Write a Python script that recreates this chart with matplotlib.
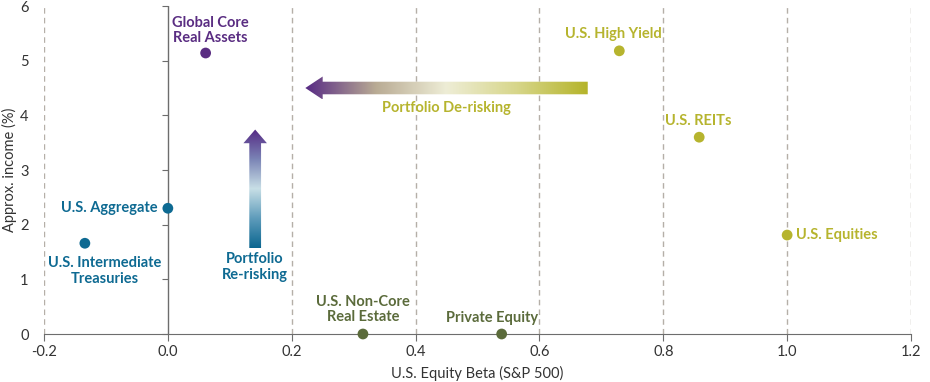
import numpy as np
import matplotlib
matplotlib.use("Agg")
import matplotlib.pyplot as plt
from matplotlib.patches import Polygon
from matplotlib.colors import LinearSegmentedColormap

plt.rcParams['font.family'] = ['Lato', 'DejaVu Sans']

# ---- data ----
names = ["Global Core\nReal Assets", "U.S. Aggregate", "U.S. Intermediate\nTreasuries",
         "U.S. High Yield", "U.S. REITs", "U.S. Equities",
         "U.S. Non-Core\nReal Estate", "Private Equity"]
beta = [0.061, 0.0, -0.134, 0.729, 0.858, 1.0, 0.315, 0.539]
income = [5.14, 2.30, 1.66, 5.18, 3.60, 1.81, 0.0, 0.0]
groups = ["purple", "blue", "blue", "olive", "olive", "olive", "green", "green"]
x_ticks = [-0.2, 0.0, 0.2, 0.4, 0.6, 0.8, 1.0, 1.2]
y_ticks = [0, 1, 2, 3, 4, 5, 6]

colors = {"purple": "#5a2d82", "blue": "#0e6a92", "olive": "#b6b42e", "green": "#5b6b3b"}

fig = plt.figure(figsize=(9.30, 3.82), dpi=100)
ax = fig.add_axes([44/930, 1-334/382, (911-44)/930, (334-6)/382])
ax.set_xlim(-0.2, 1.2)
ax.set_ylim(0, 6)

# grid lines
for xv in x_ticks:
    if xv != 0.0:
        ax.axvline(xv, color="#b5afa8", lw=1.0, ls=(0, (4, 3)), zorder=1)
ax.axvline(0.0, color="#6d6d6d", lw=1.0, zorder=1)

for s in ["top", "right", "left"]:
    ax.spines[s].set_visible(False)
ax.spines["bottom"].set_color("#6d6d6d")
ax.set_xticks(x_ticks)
ax.set_xticklabels([f"{v:.1f}" for v in x_ticks])
ax.set_yticks(y_ticks)
ax.set_yticklabels([str(v) for v in y_ticks])
ax.tick_params(axis="x", length=5, color="#6d6d6d", labelsize=10.5, labelcolor="#333333", pad=3)
ax.tick_params(axis="y", length=0, labelsize=10.5, labelcolor="#333333", pad=11)

sec = ax.secondary_yaxis(0.2/1.4)
sec.set_yticks(y_ticks)
sec.tick_params(axis="y", length=4, color="#6d6d6d", labelleft=False, labelright=False)
sec.spines["left"].set_visible(False)

ax.set_xlabel("U.S. Equity Beta (S&P 500)", fontsize=10.5, color="#333333", labelpad=5)
ax.set_ylabel("Approx. income (%)", fontsize=10.5, color="#333333")
ax.yaxis.set_label_coords(-0.031, 0.5)

# points
for b, inc, g in zip(beta, income, groups):
    ax.scatter([b], [inc], s=60, color=colors[g], zorder=5, clip_on=False, edgecolors="none")

# labels
tkw = dict(fontsize=10.5, fontweight="bold", zorder=6)
ax.text(0.068, 5.55, names[0], color=colors["purple"], ha="center", va="center", linespacing=1.15, **tkw)
ax.text(-0.016, 2.30, names[1], color=colors["blue"], ha="right", va="center", **tkw)
ax.text(-0.102, 1.15, names[2], color=colors["blue"], ha="center", va="center", linespacing=1.15, **tkw)
ax.text(0.72, 5.49, names[3], color=colors["olive"], ha="center", va="center", **tkw)
ax.text(0.857, 3.89, names[4], color=colors["olive"], ha="center", va="center", **tkw)
ax.text(1.015, 1.81, names[5], color=colors["olive"], ha="left", va="center", **tkw)
ax.text(0.315, 0.45, names[6], color=colors["green"], ha="center", va="center", linespacing=1.15, **tkw)
ax.text(0.523, 0.29, names[7], color=colors["green"], ha="center", va="center", **tkw)
ax.text(0.140, 1.22, "Portfolio\nRe-risking", color=colors["blue"], ha="center", va="center", linespacing=1.15, **tkw)
ax.text(0.450, 4.14, "Portfolio De-risking", color=colors["olive"], ha="center", va="center", **tkw)

# gradient arrows
def gradient_arrow(ax, poly_xy, extent, cmap_colors, horizontal):
    cmap = LinearSegmentedColormap.from_list("g", cmap_colors)
    grad = np.linspace(0, 1, 256)
    img = grad[None, :] if horizontal else grad[:, None]
    im = ax.imshow(img, cmap=cmap, extent=extent, origin="lower", aspect="auto", zorder=4, interpolation="bilinear")
    poly = Polygon(poly_xy, closed=True, facecolor="none", edgecolor="none", transform=ax.transData)
    ax.add_patch(poly)
    im.set_clip_path(poly)

# horizontal arrow (pointing left)
x0, x1, yc = 0.222, 0.678, 4.50
bh, hh, hl = 0.115, 0.21, 0.028
hpoly = [(x0, yc), (x0 + hl, yc + hh), (x0 + hl, yc + bh), (x1, yc + bh),
         (x1, yc - bh), (x0 + hl, yc - bh), (x0 + hl, yc - hh)]
gradient_arrow(ax, hpoly, [x0, x1, yc - hh, yc + hh],
               ["#572a84", "#b9ab94", "#eeedd6", "#d7d68a", "#b5b42a"], True)

# vertical arrow (pointing up)
xc, y0, y1 = 0.141, 1.57, 3.74
bw, hw, vl = 0.0095, 0.019, 0.25
vpoly = [(xc, y1), (xc + hw, y1 - vl), (xc + bw, y1 - vl), (xc + bw, y0),
         (xc - bw, y0), (xc - bw, y1 - vl), (xc - hw, y1 - vl)]
gradient_arrow(ax, vpoly, [xc - hw, xc + hw, y0, y1],
               ["#0b6690", "#5f9cbb", "#c8dfe6", "#7a83b5", "#552a84"], False)

ax.set_xlim(-0.2, 1.2)
ax.set_ylim(0, 6)

fig.savefig("out.png", dpi=100)
